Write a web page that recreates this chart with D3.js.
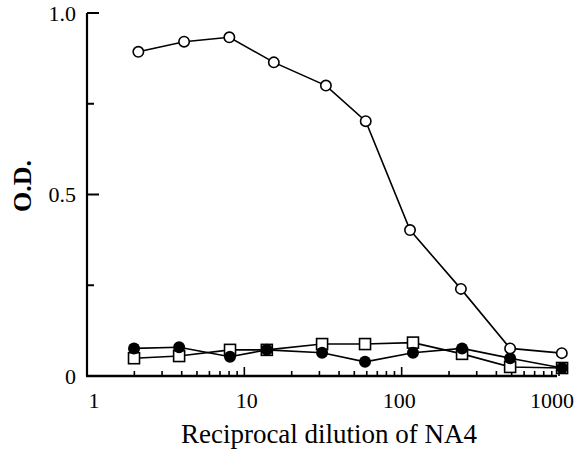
<!DOCTYPE html>
<html>
<head>
<meta charset="utf-8">
<script src="https://cdn.jsdelivr.net/npm/d3@7"></script>
<style>
  body { margin: 0; background: #fff; }
  svg { display: block; }
</style>
</head>
<body>
<svg id="chart" width="579" height="460"></svg>
<script>
// values
const dilOpen   = [2.12, 4.14, 8.03, 15.4, 33.0, 59.1, 113, 238, 489, 1042];
const odOpen    = [0.893, 0.921, 0.933, 0.864, 0.800, 0.702, 0.402, 0.240, 0.076, 0.063];
const dilOther  = [1.99, 3.85, 8.11, 13.9, 31.2, 58.5, 118, 242, 489, 1046];
const odFilled  = [0.076, 0.079, 0.053, 0.072, 0.064, 0.039, 0.064, 0.076, 0.049, 0.022];
const odSquare  = [0.049, 0.055, 0.072, 0.072, 0.088, 0.088, 0.092, 0.061, 0.025, 0.022];
const xLabels   = [1, 10, 100, 1000];
const yLabels   = [0, 0.5, 1.0];

const svg = d3.select("#chart");
const font = "'Liberation Serif', 'Times New Roman', serif";

const x = d3.scaleLog().domain([1, 1000]).range([87, 559]);
const xLab = d3.scaleLog().domain([1, 1000]).range([94, 552]);
const y = d3.scaleLinear().domain([0, 1]).range([376, 13]);

// axis lines
svg.append("line").attr("x1", 87).attr("x2", 87).attr("y1", y(1)).attr("y2", y(0))
  .attr("stroke", "black").attr("stroke-width", 2.2);
svg.append("line").attr("x1", 86).attr("x2", 557).attr("y1", y(0)).attr("y2", y(0))
  .attr("stroke", "black").attr("stroke-width", 2.4);

// y ticks, pointing inward
[0, 0.25, 0.5, 0.75, 1].forEach(v => {
  const major = (v * 2) % 1 === 0;
  svg.append("line").attr("x1", 87).attr("x2", 87 + (major ? 12 : 7))
    .attr("y1", y(v)).attr("y2", y(v)).attr("stroke", "black").attr("stroke-width", 2);
});
svg.selectAll("text.ylab").data(yLabels).join("text")
  .attr("class", "ylab")
  .attr("x", 76).attr("y", d => y(d)).attr("dy", "0.35em")
  .attr("text-anchor", "end")
  .style("font-family", font).style("font-size", "22px")
  .text(d => d === 0 ? "0" : d.toFixed(1));

// x ticks (log minor ticks), pointing up
const xTicks = [];
for (let dec = 1; dec < 1000; dec *= 10)
  for (let m = 2; m <= 10; m++) xTicks.push(dec * m);
xTicks.forEach(v => {
  const major = Math.log10(v) % 1 === 0;
  svg.append("line").attr("x1", x(v)).attr("x2", x(v))
    .attr("y1", y(0)).attr("y2", y(0) - (major ? 9 : 5))
    .attr("stroke", "black").attr("stroke-width", 1.6);
});
svg.selectAll("text.xlab").data(xLabels).join("text")
  .attr("class", "xlab")
  .attr("x", d => xLab(d)).attr("y", 408)
  .attr("text-anchor", "middle")
  .style("font-family", font).style("font-size", "22px")
  .text(d => d);

// titles
svg.append("text")
  .attr("transform", "translate(31,186) rotate(-90)")
  .attr("text-anchor", "middle")
  .style("font-family", font).style("font-size", "26px").style("font-weight", "bold")
  .text("O.D.");
svg.append("text")
  .attr("x", 329).attr("y", 443)
  .attr("text-anchor", "middle")
  .style("font-family", font).style("font-size", "27px")
  .text("Reciprocal dilution of NA4");

const line = d3.line().x(d => x(d[0])).y(d => y(d[1]));
const openPts = d3.zip(dilOpen, odOpen);
const filledPts = d3.zip(dilOther, odFilled);
const squarePts = d3.zip(dilOther, odSquare);

[filledPts, squarePts, openPts].forEach(pts => {
  svg.append("path").attr("d", line(pts))
    .attr("fill", "none").attr("stroke", "black").attr("stroke-width", 1.6);
});

// squares
svg.selectAll("rect.sq").data(squarePts).join("rect")
  .attr("class", "sq")
  .attr("x", d => x(d[0]) - 5.5).attr("y", d => y(d[1]) - 5.5)
  .attr("width", 11).attr("height", 11)
  .attr("fill", "white").attr("stroke", "black").attr("stroke-width", 1.6);

// filled circles
svg.selectAll("circle.fc").data(filledPts).join("circle")
  .attr("class", "fc")
  .attr("cx", d => x(d[0])).attr("cy", d => y(d[1])).attr("r", 6)
  .attr("fill", "black");

// open circles
svg.selectAll("circle.oc").data(openPts).join("circle")
  .attr("class", "oc")
  .attr("cx", d => x(d[0])).attr("cy", d => y(d[1])).attr("r", 5.2)
  .attr("fill", "white").attr("stroke", "black").attr("stroke-width", 1.6);
</script>
</body>
</html>
